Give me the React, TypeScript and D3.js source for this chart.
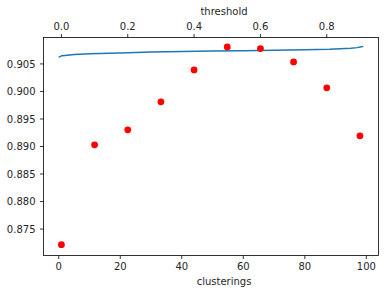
import React from "react";
import * as d3 from "d3";

const WIDTH = 388;
const HEIGHT = 292;
const FONT = "DejaVu Sans, sans-serif";

// blue line, plotted against clusterings (bottom axis)
const lineClusterings = [0, 1, 2, 5, 10, 20, 30, 40, 50, 60, 70, 80, 88, 95, 97, 98, 99];
const lineScores = [
  0.9062, 0.9065, 0.90655, 0.90672, 0.90687, 0.907, 0.90716, 0.90727, 0.90736,
  0.90741, 0.90747, 0.90756, 0.90765, 0.90785, 0.90796, 0.90808, 0.90819,
];

// red dots, plotted against threshold (top axis)
const dotThresholds = [0.0, 0.1, 0.2, 0.3, 0.4, 0.5, 0.6, 0.7, 0.8, 0.9];
const dotScores = [
  0.87217, 0.89031, 0.89303, 0.89811, 0.90391, 0.90808, 0.90778, 0.90536,
  0.90065, 0.89194,
];

const bottomTicks = [0, 20, 40, 60, 80, 100];
const topTicks = [0.0, 0.2, 0.4, 0.6, 0.8];
const leftTicks = [0.875, 0.88, 0.885, 0.89, 0.895, 0.9, 0.905];

const X0 = 43.5;
const X1 = 378.5;
const Y0 = 37.5;
const Y1 = 255.5;

export default function App() {
  const xBottom = d3.scaleLinear().domain([-4.95, 103.95]).range([X0, X1]);
  const xTop = d3.scaleLinear().domain([-0.054, 0.956]).range([X0, X1]);
  const y = d3.scaleLinear().domain([0.8702, 0.9098]).range([Y1, Y0]);

  const linePath = d3
    .line<number>()
    .x((_, i) => xBottom(lineClusterings[i]))
    .y((d) => y(d))(lineScores);

  return (
    <svg
      width={WIDTH}
      height={HEIGHT}
      style={{ position: "absolute", left: 0, top: 0, background: "#fff" }}
      fontFamily={FONT}
      fontSize={10}
    >
      <rect width={WIDTH} height={HEIGHT} fill="#fff" />

      <path d={linePath ?? ""} fill="none" stroke="#1f77b4" strokeWidth={1.5} />

      {dotThresholds.map((t, i) => (
        <circle key={i} cx={xTop(t)} cy={y(dotScores[i])} r={3.4} fill="#ff0000" />
      ))}

      <rect
        x={X0}
        y={Y0}
        width={X1 - X0}
        height={Y1 - Y0}
        fill="none"
        stroke="#000"
        strokeWidth={0.8}
      />

      {bottomTicks.map((t) => (
        <g key={"b" + t} transform={`translate(${xBottom(t)},${Y1})`}>
          <line y2={3.5} stroke="#000" strokeWidth={0.8} />
          <text y={14.5} textAnchor="middle" fill="#262626">
            {t}
          </text>
        </g>
      ))}
      {topTicks.map((t) => (
        <g key={"t" + t} transform={`translate(${xTop(t)},${Y0})`}>
          <line y2={-3.5} stroke="#000" strokeWidth={0.8} />
          <text y={-8} textAnchor="middle" fill="#262626">
            {t.toFixed(1)}
          </text>
        </g>
      ))}
      {leftTicks.map((t) => (
        <g key={"l" + t} transform={`translate(${X0},${y(t)})`}>
          <line x2={-3.5} stroke="#000" strokeWidth={0.8} />
          <text x={-8} dy="0.36em" textAnchor="end" fill="#262626">
            {t.toFixed(3)}
          </text>
        </g>
      ))}

      <text x={224} y={285} textAnchor="middle" fill="#262626">
        clusterings
      </text>
      <text x={224} y={15} textAnchor="middle" fill="#262626">
        threshold
      </text>
    </svg>
  );
}
